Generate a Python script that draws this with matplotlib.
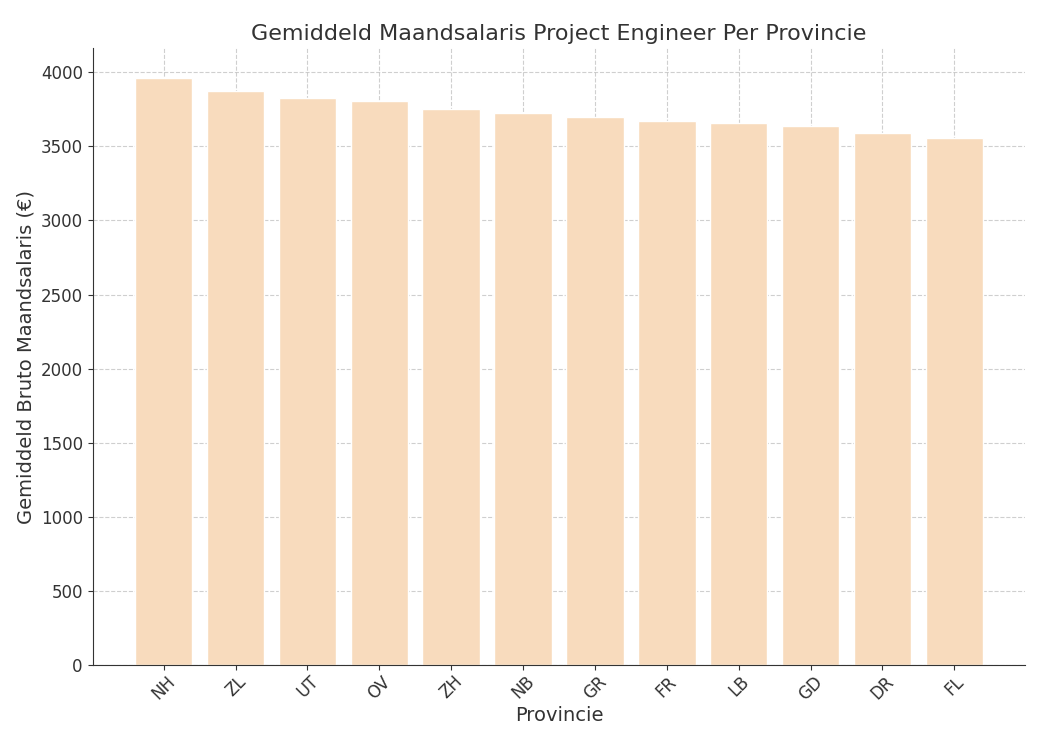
import matplotlib
matplotlib.use("Agg")
import matplotlib.pyplot as plt

provinces = ["NH", "ZL", "UT", "OV", "ZH", "NB", "GR", "FR", "LB", "GD", "DR", "FL"]
salaries = [3964, 3874, 3824, 3805, 3751, 3724, 3697, 3670, 3659, 3635, 3590, 3555]

dark = "#333333"
plt.rcParams["text.color"] = dark
plt.rcParams["axes.labelcolor"] = dark
plt.rcParams["xtick.color"] = dark
plt.rcParams["ytick.color"] = dark
plt.rcParams["axes.edgecolor"] = dark

fig, ax = plt.subplots(figsize=(10.4, 7.3), dpi=100)
ax.bar(provinces, salaries, color="#F8DBBD", edgecolor="white", linewidth=1, zorder=2)

ax.set_title("Gemiddeld Maandsalaris Project Engineer Per Provincie", fontsize=16)
ax.set_xlabel("Provincie", fontsize=14, labelpad=2)
ax.set_ylabel("Gemiddeld Bruto Maandsalaris (€)", fontsize=14)
ax.tick_params(axis="x", labelrotation=45, labelsize=12, pad=2)
ax.tick_params(axis="y", labelsize=12)
ax.grid(True, linestyle="--", color="#bbbbbb", alpha=0.7, zorder=0)
ax.set_axisbelow(True)
ax.spines["top"].set_visible(False)
ax.spines["right"].set_visible(False)

plt.subplots_adjust(left=0.089, right=0.986, top=0.934, bottom=0.089)
plt.savefig("out.png")
